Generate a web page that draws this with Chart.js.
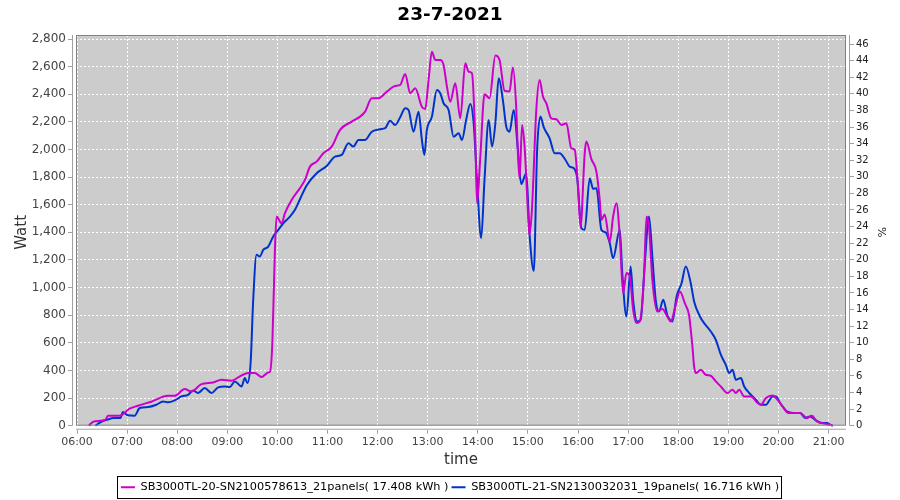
<!DOCTYPE html>
<html><head><meta charset="utf-8">
<script src="https://cdn.jsdelivr.net/npm/chart.js@4/dist/chart.umd.min.js"></script>
<style>html,body{margin:0;padding:0;background:#fff}</style>
</head><body>
<canvas id="c" width="900" height="500"></canvas>
<script>
const chartTitle = '23-7-2021';
const seriesNames = ['SB3000TL-20-SN2100578613_21panels( 17.408 kWh )',
                     'SB3000TL-21-SN2130032031_19panels( 16.716 kWh )'];
const seriesColors = ['rgb(204,0,204)', 'rgb(0,51,204)'];

const timesA = [
 '06:14','06:20','06:34','06:37','06:51','07:03','07:13','07:29','07:49','07:57',
 '08:09','08:17','08:29','08:43','08:53','09:05','09:15','09:25','09:33','09:41',
 '09:49','09:51','09:54','09:57','09:59','10:05','10:09','10:17','10:27','10:33',
 '10:39','10:47','10:55','11:05','11:15','11:29','11:39','11:45','11:53','12:01',
 '12:11','12:21','12:27','12:33','12:39','12:45','12:53','12:57','13:01','13:05',
 '13:09','13:15','13:19','13:23','13:27','13:33','13:39','13:45','13:49','13:53',
 '13:57','13:59','14:03','14:08','14:14','14:21','14:26','14:32','14:38','14:42',
 '14:46','14:48','14:50','14:53','14:56','15:01','15:02','15:05','15:10','15:14',
 '15:18','15:22','15:28','15:34','15:40','15:46','15:52','15:56','16:00','16:03',
 '16:08','16:10','16:16','16:22','16:26','16:28','16:32','16:38','16:42','16:46',
 '16:50','16:54','16:58','17:02','17:06','17:10','17:14','17:19','17:22','17:25',
 '17:29','17:35','17:41','17:47','17:51','17:57','18:02','18:08','18:13','18:15',
 '18:17','18:19','18:21','18:27','18:33','18:39','18:45','18:51','18:59','19:05',
 '19:09','19:13','19:19','19:27','19:35','19:39','19:45','19:53','19:59','20:05',
 '20:12','20:26','20:34','20:40','20:46','20:56','21:02','21:05'];
const wattA = [
 0,31,43,72,72,123,145,174,217,217,
 265,248,301,313,333,326,357,381,381,352,
 386,390,610,1273,1514,1466,1539,1635,1720,1780,
 1876,1912,1973,2021,2142,2202,2238,2274,2371,2371,
 2419,2460,2467,2547,2407,2443,2310,2293,2503,2708,
 2648,2648,2612,2455,2346,2479,2226,2624,2563,2551,
 2069,1611,1948,2400,2371,2680,2648,2425,2420,2595,
 2300,1973,1790,2178,2021,1442,1382,1587,2286,2503,
 2383,2335,2226,2219,2178,2190,2009,1997,1731,1442,
 1973,2057,1930,1840,1635,1490,1530,1330,1514,1611,
 1370,960,1105,1080,839,743,755,1080,1514,1442,
 1056,827,845,790,755,875,972,885,800,695,
 574,429,381,405,369,362,321,284,237,260,
 237,260,212,212,164,152,200,219,188,140,
 92,92,56,72,31,14,7,0];

const timesB = [
 '06:22','06:28','06:36','06:44','06:52','06:55','07:01','07:09','07:15','07:25',
 '07:35','07:43','07:49','07:57','08:05','08:13','08:19','08:25','08:33','08:41',
 '08:49','08:57','09:03','09:09','09:17','09:21','09:24','09:28','09:31','09:35',
 '09:39','09:43','09:49','09:55','10:01','10:07','10:15','10:21','10:27','10:35',
 '10:47','10:59','11:09','11:17','11:25','11:31','11:37','11:45','11:53','12:03',
 '12:09','12:15','12:21','12:27','12:33','12:37','12:43','12:49','12:53','12:56',
 '12:59','13:05','13:11','13:15','13:19','13:25','13:31','13:37','13:41','13:46',
 '13:51','13:55','13:59','14:04','14:08','14:13','14:17','14:21','14:25','14:30',
 '14:34','14:38','14:43','14:48','14:52','14:58','15:02','15:07','15:11','15:15',
 '15:19','15:26','15:32','15:38','15:45','15:50','15:55','15:59','16:04','16:08',
 '16:14','16:18','16:22','16:28','16:33','16:38','16:42','16:50','16:53','16:58',
 '17:03','17:06','17:11','17:15','17:20','17:25','17:29','17:33','17:37','17:42',
 '17:47','17:53','17:58','18:04','18:09','18:15','18:19','18:26','18:31','18:39',
 '18:45','18:51','18:57','19:01','19:05','19:09','19:15','19:19','19:25','19:33',
 '19:39','19:45','19:53','19:57','20:02','20:10','20:18','20:26','20:32','20:38',
 '20:44','20:52','20:58','21:02','21:05'];
const wattB = [
 0,24,43,56,56,99,75,72,128,135,
 152,176,169,183,212,224,255,237,273,237,
 277,284,280,321,284,345,309,465,912,1237,
 1225,1273,1297,1370,1418,1466,1514,1563,1640,1740,
 1828,1881,1948,1961,2045,2021,2069,2069,2129,2147,
 2154,2209,2178,2233,2299,2286,2129,2274,2069,1961,
 2142,2238,2431,2407,2335,2286,2093,2117,2069,2214,
 2330,2190,1780,1358,1780,2214,2021,2190,2515,2358,
 2166,2129,2286,1997,1750,1828,1382,1120,1997,2238,
 2160,2081,1973,1973,1924,1876,1864,1792,1430,1418,
 1792,1715,1720,1418,1400,1322,1213,1418,1105,791,
 1153,912,755,767,1177,1514,1225,912,827,912,
 800,755,936,1032,1153,1032,900,791,743,682,
 622,514,441,381,405,333,345,284,237,188,
 152,152,212,212,164,104,92,92,56,67,
 43,20,20,7,0];

const xTickHours = [6,7,8,9,10,11,12,13,14,15,16,17,18,19,20,21];
const wattTicks = [0,200,400,600,800,1000,1200,1400,1600,1800,2000,2200,2400,2600,2800];
const pctTicks = [0,2,4,6,8,10,12,14,16,18,20,22,24,26,28,30,32,34,36,38,40,42,44,46];

const toMin = s => { const p = s.split(':').map(Number); return p[0] * 60 + p[1]; };
const ptsA = timesA.map((t, i) => ({x: toMin(t), y: wattA[i]}));
const ptsB = timesB.map((t, i) => ({x: toMin(t), y: wattB[i]}));

Chart.defaults.font.family = "'DejaVu Sans', sans-serif";

const decor = {
  id: 'decor',
  beforeDraw(chart) {
    const {ctx, chartArea: a} = chart;
    ctx.save();
    ctx.fillStyle = '#cccccc';
    ctx.fillRect(a.left + 4, a.top, a.right - a.left - 8, a.bottom - a.top - 4);
    ctx.restore();
  },
  afterDraw(chart) {
    const {ctx, chartArea: a} = chart;
    ctx.save();
    ctx.lineWidth = 1;
    ctx.strokeStyle = '#808080';
    ctx.strokeRect(a.left + 4.5, a.top + 0.5, a.right - a.left - 9, a.bottom - a.top - 5);
    ctx.strokeStyle = '#a0a0a0';
    ctx.beginPath();
    ctx.moveTo(a.left + 0.5, a.top); ctx.lineTo(a.left + 0.5, a.bottom - 4);
    ctx.moveTo(a.right - 0.5, a.top); ctx.lineTo(a.right - 0.5, a.bottom - 4);
    ctx.moveTo(a.left + 4, a.bottom - 0.5); ctx.lineTo(a.right - 4, a.bottom - 0.5);
    ctx.stroke();
    const lg = chart.legend;
    if (lg && lg.legendHitBoxes && lg.legendHitBoxes.length) {
      const hb = lg.legendHitBoxes;
      const l = Math.min(...hb.map(h => h.left)) - 4;
      const r = Math.max(...hb.map(h => h.left + h.width)) + 2;
      const cy = hb[0].top + hb[0].height / 2;
      ctx.strokeStyle = '#000';
      ctx.strokeRect(Math.round(l) + 0.5, Math.round(cy - 11) + 0.5, Math.round(r - l), 22);
    }
    ctx.restore();
  }
};

new Chart(document.getElementById('c'), {
  type: 'line',
  data: {
    datasets: [
      {label: seriesNames[0], data: ptsA, borderColor: seriesColors[0], backgroundColor: seriesColors[0],
       borderWidth: 2, pointRadius: 0, cubicInterpolationMode: 'monotone', yAxisID: 'y'},
      {label: seriesNames[1], data: ptsB, borderColor: seriesColors[1], backgroundColor: seriesColors[1],
       borderWidth: 2, pointRadius: 0, cubicInterpolationMode: 'monotone', yAxisID: 'y'}
    ]
  },
  options: {
    responsive: false, animation: false, devicePixelRatio: 1,
    layout: {padding: {top: 0, left: 0, right: 0, bottom: -3}},
    plugins: {
      title: {display: true, text: chartTitle, color: '#000', font: {size: 18.5, weight: 'bold'},
              padding: {top: 4, bottom: 8.8}},
      legend: {position: 'bottom',
               labels: {usePointStyle: true, pointStyle: 'line', pointStyleWidth: 14, boxHeight: 11,
                        color: '#000', font: {size: 11.3}, padding: 3}},
      tooltip: {enabled: false}
    },
    scales: {
      x: {type: 'linear', min: 354.0, max: 1285.7,
          afterBuildTicks: s => { s.ticks = xTickHours.map(h => ({value: h * 60})); },
          afterFit: s => { s.height = 49; },
          ticks: {color: '#444', font: {size: 11}, padding: 2, maxRotation: 0, autoSkip: false,
                  callback: v => String(Math.round(v / 60)).padStart(2, '0') + ':00'},
          grid: {color: '#ffffff', tickColor: '#a0a0a0', tickLength: 4, lineWidth: 1},
          border: {display: false, dash: [2, 2]},
          title: {display: true, text: 'time', color: '#333', font: {size: 15}, padding: {top: 0, bottom: 10}}},
      y: {type: 'linear', position: 'left', min: -28.9, max: 2829,
          afterBuildTicks: s => { s.ticks = wattTicks.map(v => ({value: v})); },
          afterFit: s => { s.width = 72; },
          ticks: {color: '#444', font: {size: 12}, padding: 2,
                  callback: v => Number(v).toLocaleString('en-US')},
          grid: {color: '#ffffff', tickColor: '#a0a0a0', tickLength: 4, lineWidth: 1},
          border: {display: false, dash: [2, 2]},
          title: {display: true, text: 'Watt', color: '#333', font: {size: 15}, padding: {top: 13, bottom: 0}}},
      y1: {type: 'linear', position: 'right', min: -0.48, max: 47.09,
          afterBuildTicks: s => { s.ticks = pctTicks.map(v => ({value: v})); },
          afterFit: s => { s.width = 50; },
          ticks: {color: '#222', font: {size: 10}, padding: 2},
          grid: {drawOnChartArea: false, tickColor: '#a0a0a0', tickLength: 4},
          border: {display: false},
          title: {display: true, text: '%', color: '#222', font: {size: 11}, padding: {top: 13, bottom: 0}}}
    }
  },
  plugins: [decor]
});
</script>
</body></html>
